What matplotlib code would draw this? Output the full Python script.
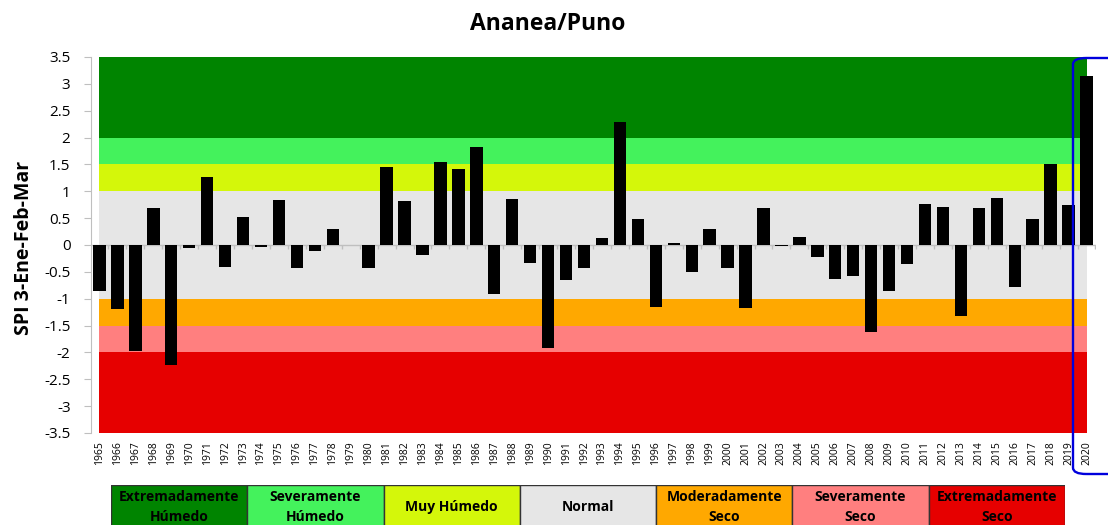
import matplotlib
matplotlib.use('Agg')
import matplotlib.pyplot as plt
from matplotlib.patches import Rectangle, FancyBboxPatch

plt.rcParams['font.family'] = ['Open Sans', 'DejaVu Sans']

# SPI values, 1965-2020
years = list(range(1965, 2021))
spi = [-0.86, -1.19, -1.97, 0.69, -2.23, -0.06, 1.26, -0.41, 0.53, -0.03,
       0.84, -0.42, -0.11, 0.29, 0.0, -0.43, 1.45, 0.81, -0.19, 1.55,
       1.42, 1.83, -0.91, 0.86, -0.34, -1.91, -0.66, -0.43, 0.13, 2.29,
       0.48, -1.15, 0.03, -0.50, 0.29, -0.43, -1.17, 0.68, -0.02, 0.14,
       -0.23, -0.63, -0.58, -1.62, -0.86, -0.35, 0.76, 0.70, -1.32, 0.68,
       0.88, -0.78, 0.48, 1.50, 0.74, 3.15]

# SPI classes, from dry to wet
band_edges = [-3.5, -2, -1.5, -1, 1, 1.5, 2, 3.5]
band_colors = ['#e60000', '#ff7f7f', '#ffa800', '#e6e6e6',
               '#d4f70a', '#44f25c', '#008400']
class_labels = ['Extremadamente\nSeco', 'Severamente\nSeco', 'Moderadamente\nSeco',
                'Normal', 'Muy Húmedo', 'Severamente\nHúmedo', 'Extremadamente\nHúmedo']

yticks = [3.5, 3, 2.5, 2, 1.5, 1, 0.5, 0, -0.5, -1, -1.5, -2, -2.5, -3, -3.5]

W, H = 1108, 525
fig = plt.figure(figsize=(W / 100, H / 100), dpi=100)
ax = fig.add_axes([90.5 / W, 1 - 433 / H, 1005 / W, 376 / H])

n = len(years)
x = list(range(n))

# background classes, spanning first to last year centre
for lo, hi, c in zip(band_edges[:-1], band_edges[1:], band_colors):
    ax.fill_between([0, n - 1], lo, hi, color=c, lw=0, zorder=0)

ax.axhline(0, color='#bfbfbf', lw=1, zorder=1)
ax.vlines([i + 0.5 for i in range(-1, n)], -0.07, 0, color='#bfbfbf', lw=1, zorder=1)

ax.bar(x, spi, width=0.69, color='black', zorder=2)

ax.set_xlim(-0.5, n - 0.5)
ax.set_ylim(-3.5, 3.5)
ax.set_yticks(yticks)
ax.set_yticklabels([('%g' % v) for v in yticks], fontsize=11)
ax.set_xticks(x)
ax.set_xticklabels([str(y) for y in years], rotation=90, fontsize=7.5)
ax.tick_params(axis='x', length=0, pad=6)
ax.tick_params(axis='y', length=5.4, color='#bfbfbf', pad=9)
for s in ['top', 'right', 'bottom']:
    ax.spines[s].set_visible(False)
ax.spines['left'].set_color('#bfbfbf')
ax.set_ylabel('SPI 3-Ene-Feb-Mar', fontsize=14, fontweight='bold')
ax.yaxis.set_label_coords(-0.056, 0.492)

fig.text(548 / W, 1 - 24 / H, 'Ananea/Puno', fontsize=16.5, fontweight='bold',
         ha='center', va='center')

# highlight on the last year
hl = FancyBboxPatch((1073 / W, 1 - 474 / H), 60 / W, 416 / H,
                    boxstyle='round,pad=0,rounding_size=0.012',
                    transform=fig.transFigure, fill=False,
                    edgecolor='#0000dd', lw=1.7, clip_on=False)
fig.add_artist(hl)

# class legend under the chart
lg = fig.add_axes([111 / W, -50 / H, 954 / W, 90 / H])
lg.set_xlim(0, len(class_labels))
lg.set_ylim(90, 0)
lg.axis('off')
for i, (lab, c) in enumerate(zip(class_labels[::-1], band_colors[::-1])):
    lg.add_patch(Rectangle((i, 0), 1, 90, facecolor=c, edgecolor='#333333', lw=1))
    lines = lab.split('\n')
    if len(lines) == 1:
        lg.text(i + 0.5, 22, lines[0], ha='center', va='center',
                fontsize=10, fontweight='bold')
    else:
        for k, t in enumerate(lines):
            lg.text(i + 0.5, 12 + 20 * k, t, ha='center', va='center',
                    fontsize=10, fontweight='bold')

fig.savefig('out.png', dpi=100)
